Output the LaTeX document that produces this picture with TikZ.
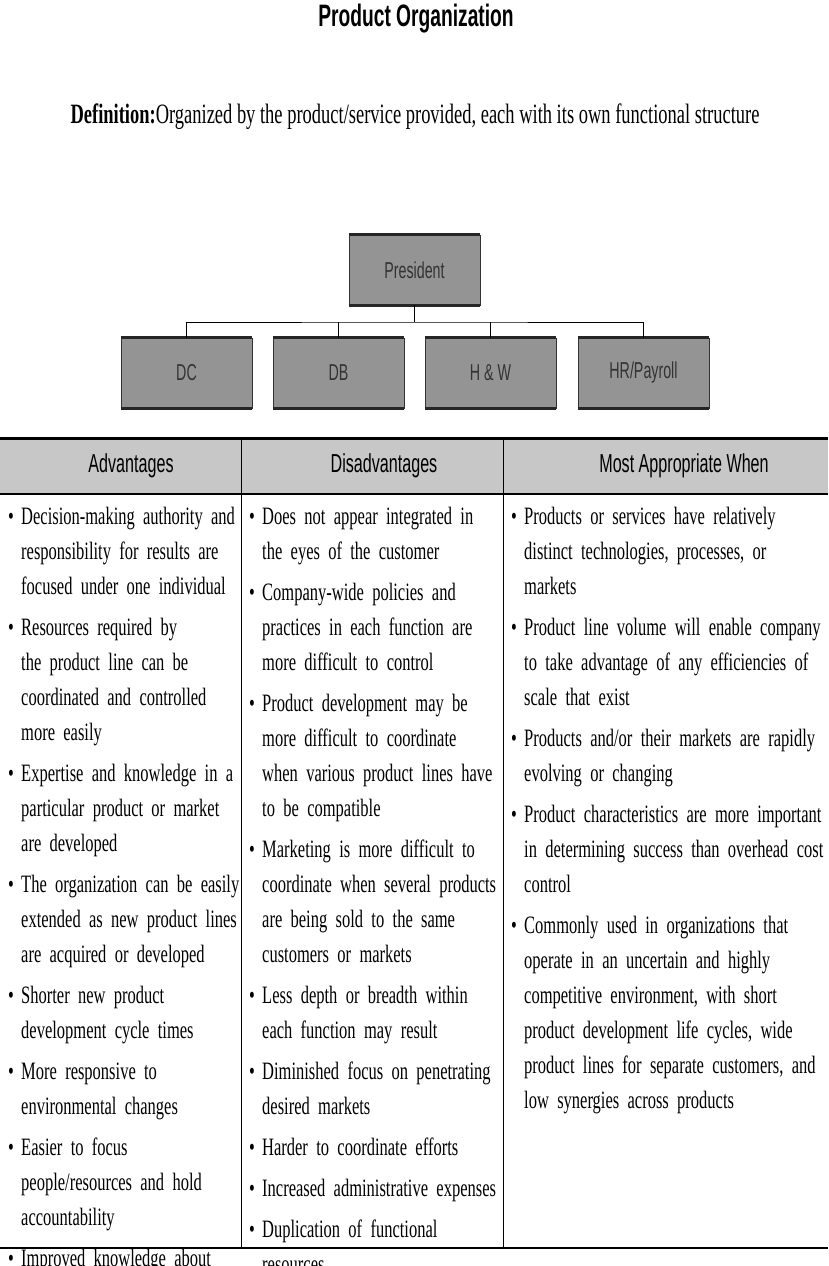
\documentclass[tikz,border=0pt]{standalone}
\usepackage{fontspec}
\setmainfont[FakeStretch=0.66]{Liberation Serif}
\newfontfamily\headfont[FakeStretch=0.62]{Liberation Sans}
\newcommand{\colsetup}{\fontsize{25}{35}\selectfont\raggedright\hyphenpenalty=10000 \exhyphenpenalty=10000 }
\newcommand{\itm}[1]{\hangindent=13pt\hangafter=1\noindent\makebox[13pt][l]{•}#1\par\vspace{6pt}}
\begin{document}
\begin{tikzpicture}
     [x=1pt,y=-1pt,
     orgbox/.style={rectangle, draw=black!80, fill=black!42, thick, minimum width=131pt, minimum height=70pt, font=\headfont\fontsize{23}{26}\selectfont, text=black!80},
     headcell/.style={font=\headfont\fontsize{26}{30}\selectfont},
     column/.style={anchor=north west, align=left, inner sep=0pt, font=\colsetup},
     ]
 \useasboundingbox (0,0) rectangle (828,1266);
 \node[font=\headfont\bfseries\fontsize{31}{34}\selectfont] (title) at (416,19) {Product Organization};
 \node[font=\fontsize{28}{30}\selectfont] (defn) at (415,117) {\textbf{Definition:}Organized by the product/service provided, each with its own functional structure};
 % org chart
 \node[orgbox] (pres) at (414.5,270) {President};
 \node[orgbox] (dc) at (186.5,373) {DC};
 \node[orgbox] (db) at (338.5,373) {DB};
 \node[orgbox] (hw) at (490.5,373) {H \& W};
 \node[orgbox] (hr) at (643.5,373) {HR/Payroll};
 \foreach \b in {pres,dc,db,hw,hr}
   {\draw[line width=3pt, black!85] (\b.north west) -- (\b.north east);
    \draw[line width=3pt, black!85] (\b.south west) -- (\b.south east);}
 \coordinate (bus) at (414.5,322);
 \draw[thick] (pres.south) -- (bus);
 \draw[thick] (dc.north) |- (bus) -| (hr.north);
 \draw[thick] (db.north) -- (db.north |- bus);
 \draw[thick] (hw.north) -- (hw.north |- bus);
 % table
 \fill[black!22] (0,438) rectangle (828,494);
 \draw[line width=3pt] (0,438) -- (828,438);
 \draw[line width=2pt] (0,494) -- (828,494);
 \draw[line width=2.5pt] (0,1248) -- (828,1248);
 \draw[thick] (241,438) -- (241,1248) (503,438) -- (503,1248);
 \node[headcell] (hadv) at (131,466) {Advantages};
 \node[headcell] (hdis) at (384,466) {Disadvantages};
 \node[headcell] (hwhen) at (684,466) {Most Appropriate When};
 \node[column, text width=232pt] (adv) at (8,507) {%
   \itm{Decision-making authority and responsibility for results are focused under one individual}
   \itm{Resources required by the product line can be coordinated and controlled more easily}
   \itm{Expertise and knowledge in a particular product or market are developed}
   \itm{The organization can be easily extended as new product lines are acquired or developed}
   \itm{Shorter new product development cycle times}
   \itm{More responsive to environmental changes}
   \itm{Easier to focus people/resources and hold accountability}
   \itm{Improved knowledge about markets}};
 \node[column, text width=250pt] (dis) at (249,507) {%
   \itm{Does not appear integrated in the eyes of the customer}
   \itm{Company-wide policies and practices in each function are more difficult to control}
   \itm{Product development may be more difficult to coordinate when various product lines have to be compatible}
   \itm{Marketing is more difficult to coordinate when several products are being sold to the same customers or markets}
   \itm{Less depth or breadth within each function may result}
   \itm{Diminished focus on penetrating desired markets}
   \itm{Harder to coordinate efforts}
   \itm{Increased administrative expenses}
   \itm{Duplication of functional resources}};
 \node[column, text width=314pt] (when) at (511,507) {%
   \itm{Products or services have relatively distinct technologies, processes, or markets}
   \itm{Product line volume will enable company to take advantage of any efficiencies of scale that exist}
   \itm{Products and/or their markets are rapidly evolving or changing}
   \itm{Product characteristics are more important in determining success than overhead cost control}
   \itm{Commonly used in organizations that operate in an uncertain and highly competitive environment, with short product development life cycles, wide product lines for separate customers, and low synergies across products}};
\end{tikzpicture}
\end{document}
